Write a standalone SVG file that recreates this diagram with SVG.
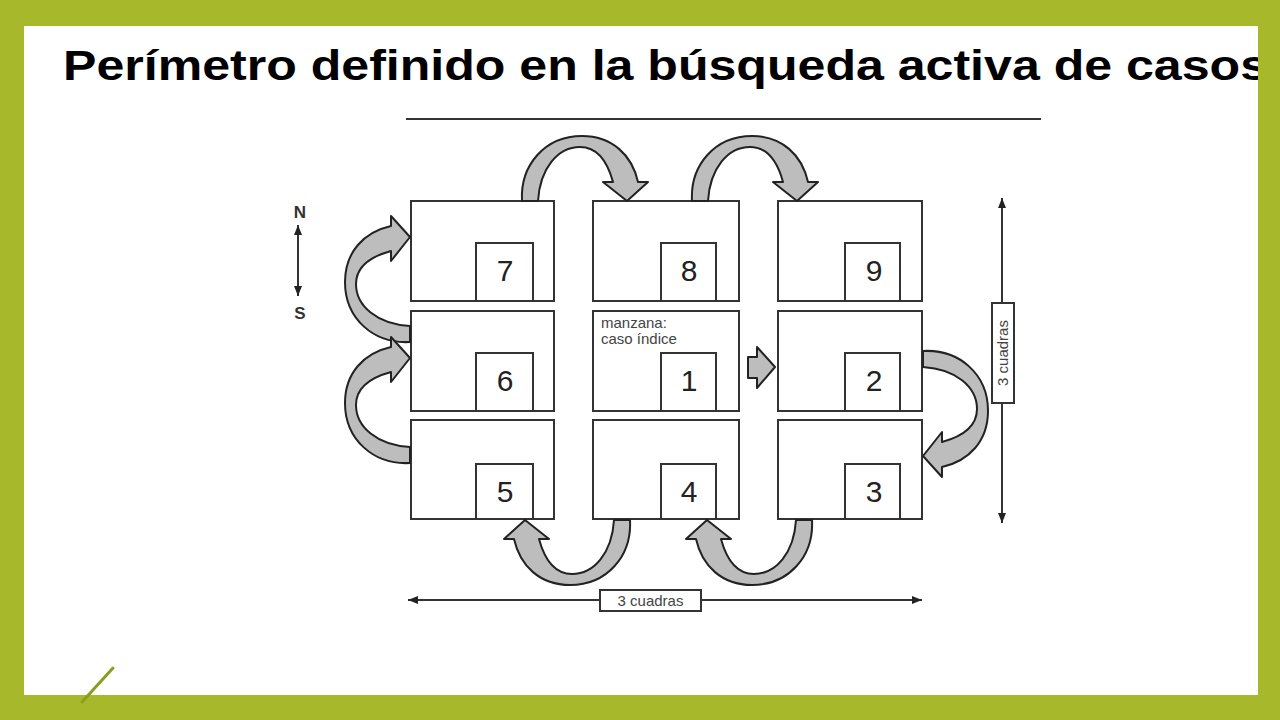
<svg xmlns="http://www.w3.org/2000/svg" width="1280" height="720" viewBox="0 0 1280 720">
  <style>
    .blk { fill: #ffffff; stroke: #333333; stroke-width: 2; }
    .num { font-family: "Liberation Sans", Arial, sans-serif; font-size: 30px; fill: #222222; text-anchor: middle; }
    .lbl { font-family: "Liberation Sans", Arial, sans-serif; font-size: 15px; fill: #444444; }
    .curv { fill: #bdbdbd; stroke: #222222; stroke-width: 2; stroke-linejoin: round; }
    .dim { stroke: #333333; stroke-width: 2; fill: none; }
  </style>
  <defs>
    <clipPath id="panel"><rect x="24" y="26" width="1234" height="669"/></clipPath>
    <marker id="tri" viewBox="0 0 10 8" refX="10" refY="4" markerWidth="10" markerHeight="8" markerUnits="userSpaceOnUse" orient="auto-start-reverse">
      <path d="M0,0 L10,4 L0,8 z" fill="#222222"/>
    </marker>
    <path id="curveArrow" d="M522,201 C520,165 545,136 582,136 C612,136 632,155 638,182 L648,182 L627,201 L603,182 L613,182 C607,160 596,147 580,147 C558,147 540,168 538,201 Z"/>
  </defs>

  <rect x="0" y="0" width="1280" height="720" fill="#a7b82b"/>
  <rect x="24" y="26" width="1234" height="669" fill="#ffffff"/>
  <line x1="82" y1="702" x2="113" y2="668" stroke="#8a9e1e" stroke-width="3" stroke-linecap="round"/>

  <text x="63" y="80" clip-path="url(#panel)" font-family="'Liberation Sans', Arial, sans-serif" font-weight="bold" font-size="42" fill="#000000" textLength="1205" lengthAdjust="spacingAndGlyphs">Perímetro definido en la búsqueda activa de casos</text>

  <line x1="406" y1="119" x2="1041" y2="119" stroke="#333333" stroke-width="2"/>

  <g id="compass">
    <text x="300" y="218" font-family="'Liberation Sans', Arial, sans-serif" font-weight="bold" font-size="17" fill="#333333" text-anchor="middle">N</text>
    <line x1="298" y1="225" x2="298" y2="296" class="dim" marker-start="url(#tri)" marker-end="url(#tri)"/>
    <text x="300" y="319" font-family="'Liberation Sans', Arial, sans-serif" font-weight="bold" font-size="17" fill="#333333" text-anchor="middle">S</text>
  </g>

  <g id="block-7"><rect class="blk" x="411" y="201" width="143" height="100"/><rect class="blk" x="476" y="243" width="57" height="58"/><text class="num" x="505" y="281">7</text></g>
  <g id="block-8"><rect class="blk" x="593" y="201" width="146" height="100"/><rect class="blk" x="661" y="243" width="55" height="58"/><text class="num" x="689" y="281">8</text></g>
  <g id="block-9"><rect class="blk" x="778" y="201" width="144" height="100"/><rect class="blk" x="845" y="243" width="55" height="58"/><text class="num" x="874" y="281">9</text></g>

  <g id="block-6"><rect class="blk" x="411" y="311" width="143" height="100"/><rect class="blk" x="476" y="353" width="57" height="58"/><text class="num" x="505" y="391">6</text></g>
  <g id="block-1">
    <rect class="blk" x="593" y="311" width="146" height="100"/><rect class="blk" x="661" y="353" width="55" height="58"/><text class="num" x="689" y="391">1</text>
    <text class="lbl" x="601" y="328">manzana:</text>
    <text class="lbl" x="601" y="344">caso índice</text>
  </g>
  <g id="block-2"><rect class="blk" x="778" y="311" width="144" height="100"/><rect class="blk" x="845" y="353" width="55" height="58"/><text class="num" x="874" y="391">2</text></g>

  <g id="block-5"><rect class="blk" x="411" y="420" width="143" height="99"/><rect class="blk" x="476" y="464" width="57" height="55"/><text class="num" x="505" y="502">5</text></g>
  <g id="block-4"><rect class="blk" x="593" y="420" width="146" height="99"/><rect class="blk" x="661" y="464" width="55" height="55"/><text class="num" x="689" y="502">4</text></g>
  <g id="block-3"><rect class="blk" x="778" y="420" width="144" height="99"/><rect class="blk" x="845" y="464" width="55" height="55"/><text class="num" x="874" y="502">3</text></g>

  <g id="connectors">
    <use href="#curveArrow" class="curv"/>
    <use href="#curveArrow" class="curv" transform="translate(170,0)"/>
    <use href="#curveArrow" class="curv" transform="rotate(180,576,360.5)"/>
    <use href="#curveArrow" class="curv" transform="rotate(180,667,360.5)"/>
    <use href="#curveArrow" class="curv" transform="rotate(-90,536.5,327.5)"/>
    <use href="#curveArrow" class="curv" transform="translate(0,121) rotate(-90,536.5,327.5)"/>
    <use href="#curveArrow" class="curv" transform="rotate(90,647.5,476.5)"/>
    <polygon class="curv" points="748,357 757,357 757,347 775,367 757,388 757,378 748,378"/>
  </g>

  <g id="dimension-vertical">
    <line x1="1002" y1="198" x2="1002" y2="523" class="dim" marker-start="url(#tri)" marker-end="url(#tri)"/>
    <rect x="992" y="303" width="22" height="100" fill="#ffffff" stroke="#333333" stroke-width="2"/>
    <text class="lbl" x="0" y="0" text-anchor="middle" transform="translate(1008,353) rotate(-90)">3 cuadras</text>
  </g>
  <g id="dimension-horizontal">
    <line x1="408" y1="600" x2="922" y2="600" class="dim" marker-start="url(#tri)" marker-end="url(#tri)"/>
    <rect x="600" y="590" width="101" height="21" fill="#ffffff" stroke="#333333" stroke-width="2"/>
    <text class="lbl" x="650.5" y="606" text-anchor="middle">3 cuadras</text>
  </g>
</svg>
